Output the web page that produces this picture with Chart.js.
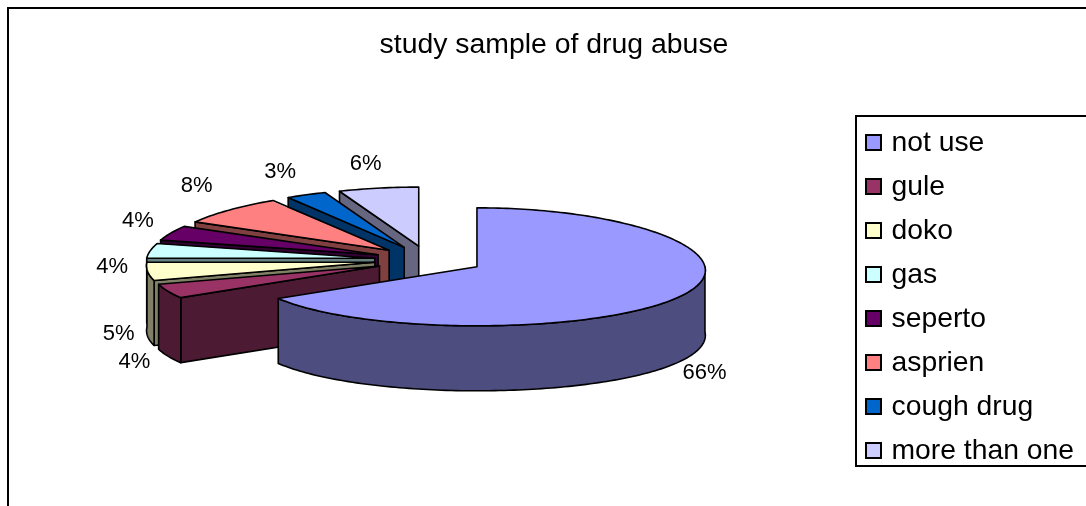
<!DOCTYPE html>
<html>
<head>
<meta charset="utf-8">
<style>html,body{margin:0;padding:0;background:#fff}canvas{display:block}</style>
<script src="https://cdn.jsdelivr.net/npm/chart.js@4/dist/chart.umd.js"></script>
</head>
<body>
<canvas id="c" width="1086" height="506"></canvas>
<script>
// Survey shares, in percent
const categories = ['not use', 'gule', 'doko', 'gas', 'seperto', 'asprien', 'cough drug', 'more than one'];
const shares = [66, 4, 5, 4, 4, 8, 3, 6];
const topColors = ['#9999FF', '#993366', '#FFFFCC', '#CCFFFF', '#660066', '#FF8080', '#0066CC', '#CCCCFF'];
const sideColors = ['#4D4D80', '#4D1A33', '#808066', '#668080', '#330033', '#804040', '#003366', '#666680'];
// Percent label positions, as a shift from each slice's rim point, in pixels
const labelShift = [[22, 13], [-33.5, 6], [-29, -3], [-38, 16], [-33, -12], [-33, -24], [-26, -23], [-13, -24]];

// Tilted pie geometry; NEAR widens the part of the pie closest to the viewer
const PIE_X = 429, PIE_Y = 260, RADIUS = 228, TILT = 59 / 228, DEPTH = 65, EXPLODE = 0.24, NEAR = 0.06;
const FONT = '"Liberation Sans", Arial, sans-serif';

function sliceGeometry(arc) {
  const mid = (arc.startAngle + arc.endAngle) / 2;
  const ox = PIE_X + EXPLODE * RADIUS * Math.cos(mid);
  const oy = PIE_Y + EXPLODE * RADIUS * Math.sin(mid) * TILT;
  const at = (angle, drop = 0) => ({
    x: ox + RADIUS * Math.cos(angle) * (1 + NEAR * Math.sin(angle)),
    y: oy + RADIUS * Math.sin(angle) * TILT + drop
  });
  return { mid, ox, oy, at };
}

function tracePolygon(ctx, pts) {
  ctx.beginPath();
  pts.forEach((p, i) => (i ? ctx.lineTo(p.x, p.y) : ctx.moveTo(p.x, p.y)));
  ctx.closePath();
}

function strokeFill(ctx, pts, fill) {
  tracePolygon(ctx, pts);
  ctx.fillStyle = fill;
  ctx.fill();
  ctx.stroke();
}

function rimPoints(g, from, to, drop = 0) {
  const steps = Math.max(2, Math.ceil((to - from) / 0.02));
  const pts = [];
  for (let i = 0; i <= steps; i++) pts.push(g.at(from + (to - from) * i / steps, drop));
  return pts;
}

function drawPercentLabels(chart) {
  const { ctx } = chart;
  ctx.save();
  ctx.font = '22px ' + FONT;
  ctx.fillStyle = '#000';
  ctx.textAlign = 'center';
  ctx.textBaseline = 'middle';
  chart.getDatasetMeta(0).data.forEach((arc, i) => {
    const g = sliceGeometry(arc);
    const lower = Math.sin(g.mid) > 0;
    const rim = g.at(g.mid, lower ? DEPTH : 0);
    ctx.fillText(shares[i] + '%', rim.x + labelShift[i][0], rim.y + labelShift[i][1]);
  });
  ctx.restore();
}

// Sides first, then the library's own arc squashed onto the tilted plane
const tiltedPie = {
  id: 'tiltedPie',
  beforeDatasetsDraw(chart) {
    const { ctx } = chart;
    const arcs = chart.getDatasetMeta(0).data.map((arc, index) => ({ arc, index, g: sliceGeometry(arc) }));
    arcs.sort((a, b) => a.g.oy - b.g.oy);
    ctx.save();
    ctx.strokeStyle = '#000';
    ctx.lineWidth = 1.6;
    ctx.lineJoin = 'round';
    for (const { arc, index, g } of arcs) {
      const s = arc.startAngle, e = arc.endAngle;
      const side = sideColors[index];
      const apex = { x: g.ox, y: g.oy };
      const apexLow = { x: g.ox, y: g.oy + DEPTH };
      if (Math.cos(s) < -1e-6) {
        strokeFill(ctx, [apex, g.at(s), g.at(s, DEPTH), apexLow], side);
      }
      if (Math.cos(e) > 1e-6) {
        strokeFill(ctx, [apex, g.at(e), g.at(e, DEPTH), apexLow], side);
      }
      const from = Math.max(s, 0), to = Math.min(e, Math.PI);
      if (to > from) {
        const top = rimPoints(g, from, to);
        const low = rimPoints(g, from, to, DEPTH).reverse();
        strokeFill(ctx, top.concat(low), side);
      }
      const outline = [apex].concat(rimPoints(g, s, e));
      const widest = (s <= Math.PI / 2 && e >= Math.PI / 2) ? 1 : Math.max(Math.sin(s), Math.sin(e));
      ctx.save();
      tracePolygon(ctx, outline);
      ctx.clip();
      ctx.translate(g.ox, g.oy);
      ctx.scale(1 + NEAR * widest, TILT);
      ctx.translate(-arc.x, -arc.y);
      arc.draw(ctx);
      ctx.restore();
      tracePolygon(ctx, outline);
      ctx.stroke();
    }
    ctx.restore();
    drawPercentLabels(chart);
    return false;
  }
};

// Outer frame, legend box and legend swatches
const frames = {
  id: 'frames',
  beforeDraw(chart) {
    const { ctx, width, height } = chart;
    ctx.save();
    ctx.fillStyle = '#fff';
    ctx.fillRect(0, 0, width, height);
    ctx.fillStyle = '#000';
    ctx.fillRect(7, 7, width - 7, 2);
    ctx.fillRect(7, 7, 2, height - 7);
    ctx.restore();
  },
  afterDraw(chart) {
    const { ctx, width, legend } = chart;
    ctx.save();
    ctx.fillStyle = '#000';
    ctx.fillRect(855, 115, width - 855, 2);
    ctx.fillRect(855, 465, width - 855, 2);
    ctx.fillRect(855, 115, 2, 352);
    ctx.strokeStyle = '#000';
    ctx.lineWidth = 2;
    legend.legendHitBoxes.forEach((box, i) => {
      const y = Math.round(box.top + box.height / 2 - 8);
      ctx.fillStyle = topColors[i];
      ctx.fillRect(866, y, 15, 15);
      ctx.strokeRect(866, y, 15, 15);
    });
    ctx.restore();
  }
};

new Chart(document.getElementById('c'), {
  type: 'pie',
  data: {
    labels: categories,
    datasets: [{ data: shares, backgroundColor: topColors, borderWidth: 0 }]
  },
  options: {
    responsive: false,
    animation: false,
    radius: RADIUS,
    events: [],
    layout: { padding: { left: 24, right: 2, top: 0, bottom: 25 } },
    plugins: {
      tooltip: { enabled: false },
      title: {
        display: true,
        text: 'study sample of drug abuse',
        color: '#000',
        font: { family: FONT, size: 28.4, weight: 'normal' },
        padding: { top: 28, bottom: 20 }
      },
      legend: {
        position: 'right',
        align: 'end',
        labels: {
          color: '#000',
          font: { family: FONT, size: 28.3 },
          boxWidth: 10,
          boxHeight: 15,
          padding: 15.7,
          generateLabels(chart) {
            return Chart.overrides.pie.plugins.legend.labels.generateLabels(chart).map(item => ({
              ...item, fillStyle: 'transparent', strokeStyle: 'transparent', lineWidth: 0
            }));
          }
        }
      }
    }
  },
  plugins: [tiltedPie, frames]
});
</script>
</body>
</html>
